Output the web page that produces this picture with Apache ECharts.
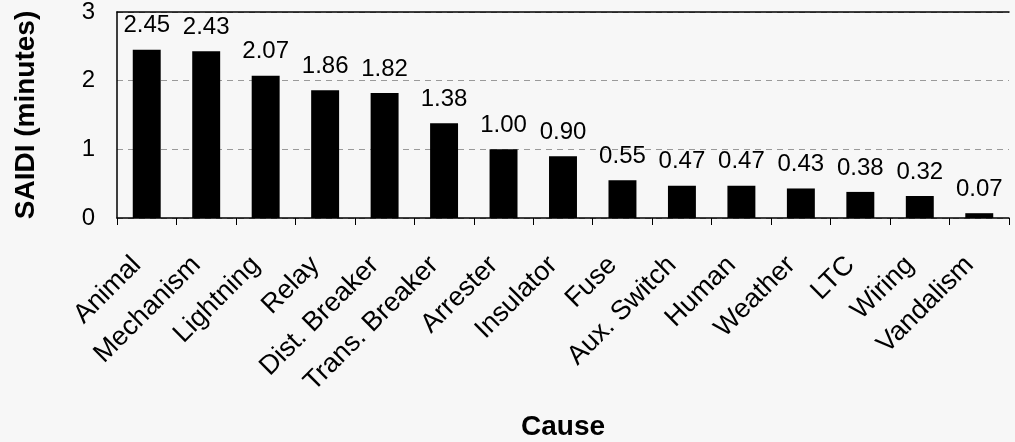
<!DOCTYPE html>
<html>
<head>
<meta charset="utf-8">
<script src="https://cdn.jsdelivr.net/npm/echarts@6/dist/echarts.min.js"></script>
<style>
  html, body { margin: 0; padding: 0; background: #f7f7f7; }
  #chart { width: 1015px; height: 442px; }
</style>
</head>
<body>
<div id="chart"></div>
<script>
// Outage causes, ranked by their SAIDI contribution
const causes = ['Animal', 'Mechanism', 'Lightning', 'Relay', 'Dist. Breaker', 'Trans. Breaker',
  'Arrester', 'Insulator', 'Fuse', 'Aux. Switch', 'Human', 'Weather', 'LTC', 'Wiring', 'Vandalism'];
const saidi = [2.45, 2.43, 2.07, 1.86, 1.82, 1.38, 1.00, 0.90, 0.55, 0.47, 0.47, 0.43, 0.38, 0.32, 0.07];
const yTicks = [0, 1, 2, 3];

const FONT = '"Liberation Sans", Arial, sans-serif';

const chart = echarts.init(document.getElementById('chart'), null, { renderer: 'canvas' });

chart.setOption({
  backgroundColor: '#f7f7f7',
  animation: false,
  grid: { left: 117, right: 6, top: 12, bottom: 224, containLabel: false },
  xAxis: [
    {
      type: 'category',
      data: causes,
      position: 'bottom',
      boundaryGap: true,
      axisLine: { show: true, lineStyle: { color: '#000', width: 1.5 } },
      axisTick: { show: true, length: 7, lineStyle: { color: '#000', width: 1 } },
      axisLabel: {
        interval: 0,
        rotate: 45,
        margin: 33,
        padding: [0, 14, 0, 0],
        color: '#000',
        fontFamily: FONT,
        fontSize: 27
      },
      name: 'Cause',
      nameLocation: 'middle',
      nameGap: 195,
      nameTextStyle: { color: '#000', fontFamily: FONT, fontSize: 28, fontWeight: 'bold' }
    },
    {
      // plain frame line along the top of the plot
      type: 'category',
      data: causes,
      position: 'top',
      axisLine: { show: true, lineStyle: { color: '#000', width: 1.5 } },
      axisTick: { show: false },
      axisLabel: { show: false }
    }
  ],
  yAxis: {
    type: 'value',
    min: yTicks[0],
    max: yTicks[yTicks.length - 1],
    interval: 1,
    axisLine: { show: true, lineStyle: { color: '#000', width: 1.5 } },
    axisTick: { show: false },
    axisLabel: {
      margin: 22,
      color: '#000',
      fontFamily: FONT,
      fontSize: 24,
      formatter: v => (yTicks.includes(v) ? String(v) : '')
    },
    splitLine: {
      show: true,
      lineStyle: { color: '#9a9a9a', width: 1, type: [6, 5] }
    },
    name: 'SAIDI (minutes)',
    nameLocation: 'middle',
    nameRotate: 90,
    nameGap: 77,
    nameTextStyle: { color: '#000', fontFamily: FONT, fontSize: 28, fontWeight: 'bold' }
  },
  series: [
    {
      type: 'bar',
      data: saidi,
      xAxisIndex: 0,
      barWidth: '47%',
      itemStyle: { color: '#000' },
      label: {
        show: true,
        position: 'top',
        distance: 12,
        color: '#000',
        fontFamily: FONT,
        fontSize: 24,
        formatter: p => p.value.toFixed(2)
      }
    }
  ]
});
</script>
</body>
</html>
